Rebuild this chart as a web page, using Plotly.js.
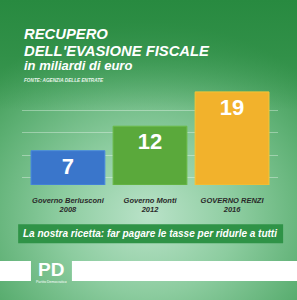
<!DOCTYPE html>
<html><head><meta charset="utf-8">
<script src="https://cdn.plot.ly/plotly-3.0.1.min.js"></script>
<style>
html,body{margin:0;padding:0;}
#wrap{position:relative;width:297px;height:300px;overflow:hidden;
background: radial-gradient(ellipse 75% 65% at 50% 72%, #b9e2c8 0%, #8ccc9f 40%, #5eb074 75%, #3f9a55 100%);}
#wrap:before{content:"";position:absolute;left:0;top:0;width:297px;height:110px;
background:linear-gradient(to bottom, rgba(40,138,64,1) 0%, rgba(40,138,64,0.6) 50%, rgba(40,138,64,0) 100%);}
#chart{position:absolute;left:0;top:0;width:297px;height:300px;}
</style>
</head><body>
<div id="wrap"><div id="chart"></div></div>
<script>
const categories = ["Governo Berlusconi<br>2008", "Governo Monti<br>2012", "GOVERNO RENZI<br>2016"];
const values = [7, 12, 19];
const barColors = ["#3a76cb", "#5aa93b", "#f2b22c"];
const lineColors = ["#4a8ae0", "#6cbb4a", "#f5c536"];

const F = "'Liberation Sans', Arial, sans-serif";
const PT = 87, PB = 185.5, PH = PB - PT;
function py(p){ return (PB - p) / PH; }

const trace = {
  type: "bar",
  x: categories,
  y: values,
  text: values.map(String),
  textposition: "inside",
  insidetextanchor: "end",
  textangle: 0,
  cliponaxis: false,
  textfont: {family: F, size: 22, color: "#ffffff", weight: 700},
  marker: {color: barColors, line: {color: lineColors, width: 1}},
  hoverinfo: "none"
};

const layout = {
  width: 297, height: 300,
  paper_bgcolor: "rgba(0,0,0,0)",
  plot_bgcolor: "rgba(0,0,0,0)",
  margin: {l: 22, r: 19, t: PT, b: 300 - PB, pad: 0},
  showlegend: false,
  bargap: 0.1,
  font: {family: F},
  xaxis: {
    type: "category",
    range: [-0.56, 2.56],
    showgrid: false, zeroline: false, showline: false,
    ticks: "", ticklen: 0, tickangle: 0, ticklabelstandoff: 9,
    tickfont: {family: F, size: 7.5, color: "#2a2a2a", weight: 700, style: "italic"}
  },
  yaxis: {
    range: [0, 20],
    tick0: 1.47, dtick: 4.6,
    showgrid: true, gridcolor: "rgba(255,255,255,0.35)", gridwidth: 1,
    zeroline: false, showticklabels: false, showline: false
  },
  shapes: [
    {type: "rect", xref: "paper", yref: "paper", x0: -0.015, x1: 1.02, y0: py(225), y1: py(244),
     fillcolor: "#2f9347", line: {width: 0}, layer: "below"},
    {type: "rect", xref: "paper", yref: "paper", x0: -0.09, x1: 0.035, y0: py(262), y1: py(282),
     fillcolor: "#ffffff", line: {width: 0}},
    {type: "rect", xref: "paper", yref: "paper", x0: 0.195, x1: 1.1, y0: py(262), y1: py(282),
     fillcolor: "#ffffff", line: {width: 0}}
  ],
  annotations: [
    {text: "RECUPERO", xref: "paper", yref: "paper", x: 0, y: py(33.5), xanchor: "left", yanchor: "middle",
     showarrow: false, font: {family: F, size: 14.8, color: "#ffffff", weight: 700, style: "italic"}},
    {text: "DELL'EVASIONE FISCALE", xref: "paper", yref: "paper", x: 0, y: py(51), xanchor: "left", yanchor: "middle",
     showarrow: false, font: {family: F, size: 14.8, color: "#ffffff", weight: 700, style: "italic"}},
    {text: "in miliardi di euro", xref: "paper", yref: "paper", x: 0, y: py(65.5), xanchor: "left", yanchor: "middle",
     showarrow: false, font: {family: F, size: 13, color: "#ffffff", weight: 700, style: "italic"}},
    {text: "FONTE: AGENZIA DELLE ENTRATE", xref: "paper", yref: "paper", x: 0, y: py(80), xanchor: "left", yanchor: "middle",
     showarrow: false, font: {family: F, size: 4.7, color: "#e8f5ea", weight: 700, style: "italic"}},
    {text: "La nostra ricetta: far pagare le tasse per ridurle a tutti", xref: "paper", yref: "paper",
     x: 0.5, y: py(234.5), xanchor: "center", yanchor: "middle", showarrow: false,
     font: {family: F, size: 10, color: "#ffffff", weight: 700, style: "italic"}},
    {text: "PD", xref: "paper", yref: "paper", x: 0.115, y: py(270), xanchor: "center", yanchor: "middle",
     showarrow: false, font: {family: F, size: 19, color: "#ffffff", weight: 700}},
    {text: "Partito Democratico", xref: "paper", yref: "paper", x: 0.115, y: py(282.5), xanchor: "center", yanchor: "middle",
     showarrow: false, font: {family: F, size: 3.5, color: "#ffffff"}}
  ]
};

Plotly.newPlot("chart", [trace], layout, {displayModeBar: false, staticPlot: true});
</script>
</body></html>
